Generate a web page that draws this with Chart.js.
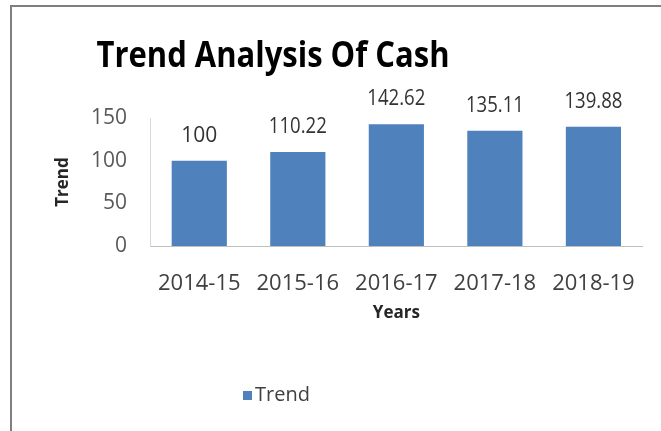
<!DOCTYPE html>
<html>
<head>
<meta charset="utf-8">
<script src="https://cdn.jsdelivr.net/npm/chart.js@4/dist/chart.umd.min.js"></script>
<style>
  html, body { margin: 0; padding: 0; background: #fff; }
  #wrap { position: relative; width: 661px; height: 431px; }
</style>
</head>
<body>
<div id="wrap"><canvas id="myChart" width="661" height="431"></canvas></div>
<script>
const years = ["2014-15", "2015-16", "2016-17", "2017-18", "2018-19"];
const trend = [100, 110.22, 142.62, 135.11, 139.88];
const yTicks = [0, 50, 100, 150];
const chartTitle = "Trend Analysis Of Cash";
const seriesName = "Trend";

const barColor = "#4f81bd";

// border, title, value labels and legend drawn on top of the chart
const extras = {
	id: "extras",
	beforeDraw(chart) {
		const ctx = chart.ctx;
		ctx.save();
		ctx.strokeStyle = "#7f7f7f";
		ctx.lineWidth = 2;
		ctx.beginPath();
		ctx.moveTo(11, 440);
		ctx.lineTo(11, 6);
		ctx.lineTo(700, 6);
		ctx.stroke();
		ctx.restore();
	},
	afterDraw(chart) {
		const ctx = chart.ctx;
		ctx.save();
		// title
		ctx.fillStyle = "#000";
		ctx.font = "bold 36px 'Open Sans'";
		ctx.textAlign = "center";
		ctx.textBaseline = "alphabetic";
		ctx.fillText(chartTitle, 273, 67, 353);

		// value labels
		const meta = chart.getDatasetMeta(0);
		ctx.fillStyle = "#333333";
		ctx.font = "21px 'Open Sans'";
		ctx.textBaseline = "middle";
		meta.data.forEach((bar, i) => {
			ctx.fillText(String(trend[i]), bar.x, bar.y - 25, 58);
		});

		// legend
		ctx.fillStyle = barColor;
		ctx.fillRect(243, 391, 9, 9);
		ctx.fillStyle = "#404040";
		ctx.font = "20px 'Open Sans'";
		ctx.textAlign = "left";
		ctx.fillText(seriesName, 255, 395);
		ctx.restore();
	}
};

const config = {
	type: "bar",
	data: {
		labels: years,
		datasets: [{
			label: seriesName,
			data: trend,
			backgroundColor: barColor,
			borderWidth: 0,
			categoryPercentage: 0.56,
			barPercentage: 1
		}]
	},
	options: {
		responsive: false,
		animation: false,
		layout: { padding: { left: 0, right: 13, top: 118, bottom: 105 } },
		plugins: {
			legend: { display: false },
			title: { display: false },
			tooltip: { enabled: false }
		},
		scales: {
			x: {
				grid: { display: false, drawTicks: false },
				border: { display: true, color: "#bfbfbf", width: 1 },
				ticks: {
					color: "#404040",
					font: { family: "'Open Sans'", size: 22 },
					padding: 25,
					maxRotation: 0,
					autoSkip: false
				},
				title: {
					display: true,
					text: "Years",
					color: "#262626",
					font: { family: "'Open Sans'", size: 17, weight: "bold" },
					padding: { top: 0, bottom: 3 }
				},
				afterFit: function(scale) { scale.height = 80; }
			},
			y: {
				min: 0,
				max: 150,
				afterBuildTicks: function(scale) {
					scale.ticks = yTicks.map(v => ({ value: v }));
				},
				grid: { display: false, drawTicks: false },
				border: { display: true, color: "#d9d9d9", width: 1 },
				ticks: {
					color: "#595959",
					font: { family: "'Open Sans'", size: 21 },
					padding: 23
				},
				title: {
					display: true,
					text: "Trend",
					color: "#262626",
					font: { family: "'Open Sans'", size: 17, weight: "bold" },
					padding: { top: 53, bottom: 0 }
				},
				afterFit: function(scale) { scale.width = 150; }
			}
		}
	},
	plugins: [extras]
};

let ctx = document.getElementById("myChart").getContext("2d");
new Chart(ctx, config);
</script>
</body>
</html>
